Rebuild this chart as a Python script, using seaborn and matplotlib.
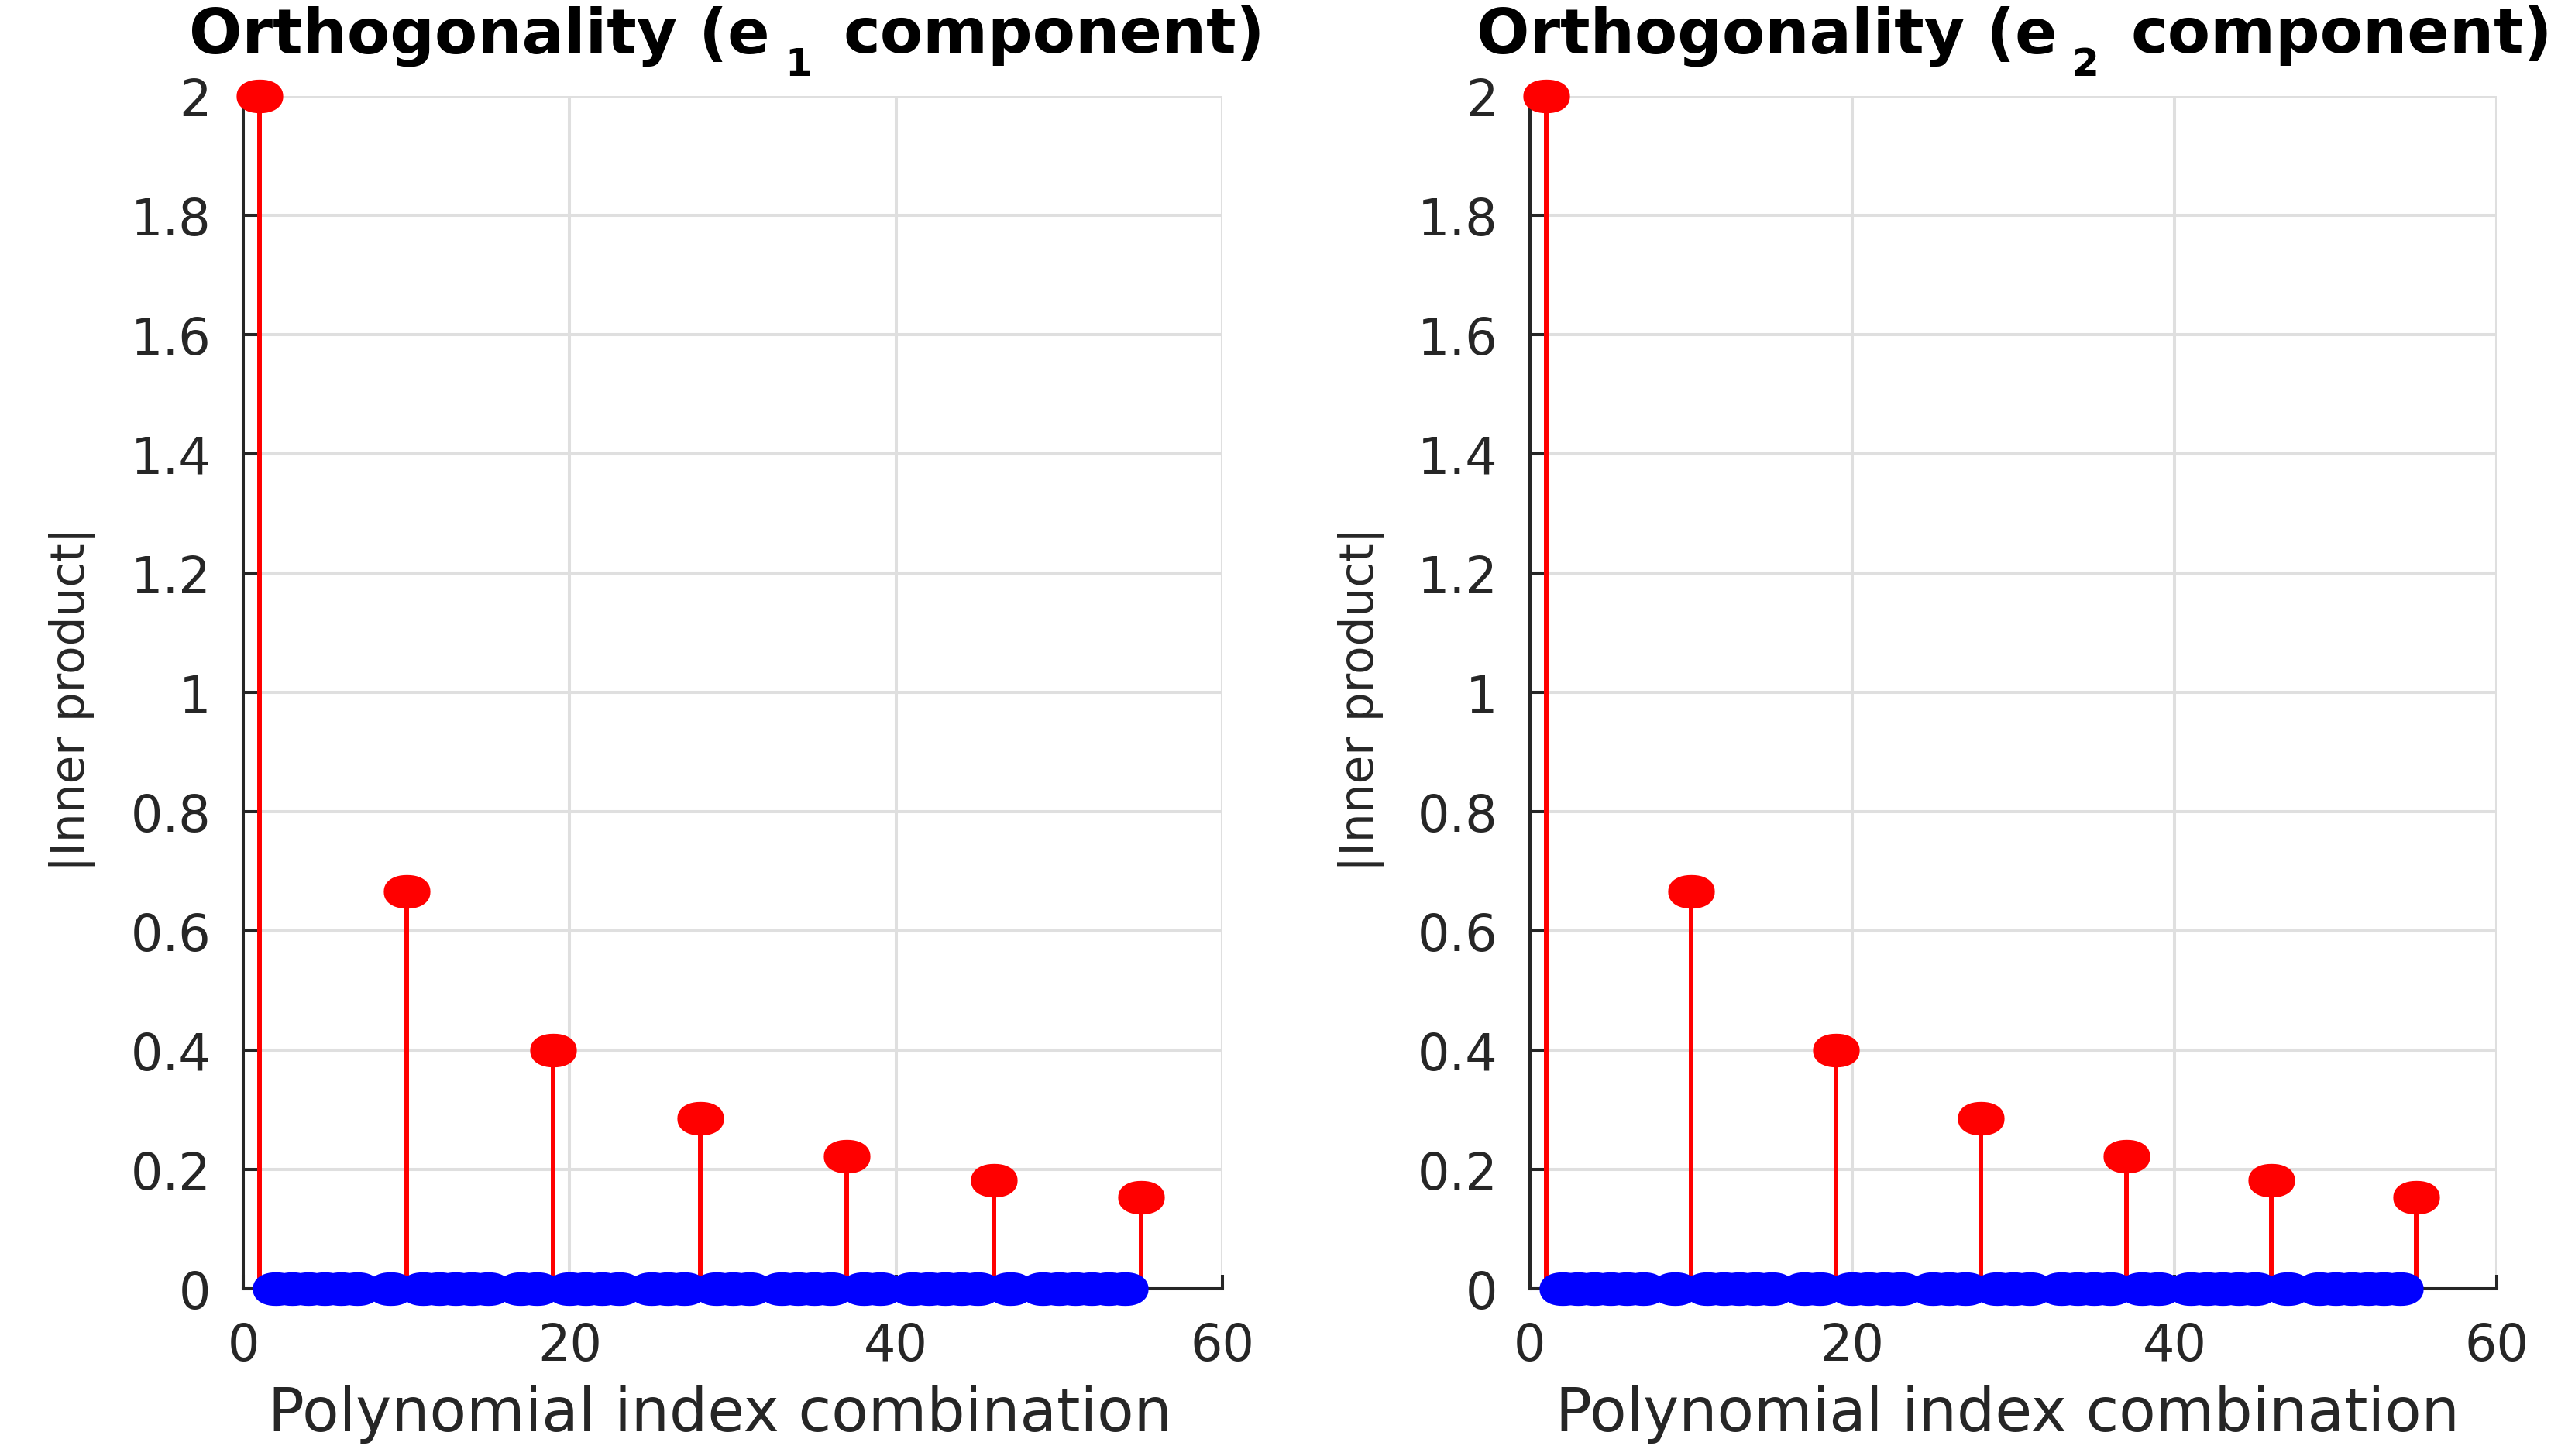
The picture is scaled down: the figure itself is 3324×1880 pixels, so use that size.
import numpy as np
import matplotlib
matplotlib.use("Agg")
import matplotlib.pyplot as plt
from matplotlib.markers import MarkerStyle
import seaborn as sns

# ---------------- data ----------------
red_idx = [1, 10, 19, 28, 37, 46, 55]
e1_red_vals = [2.0, 0.6667, 0.4, 0.2857, 0.2222, 0.1818, 0.1538]
e2_red_vals = [2.0, 0.6667, 0.4, 0.2857, 0.2222, 0.1818, 0.1538]

blue_idx = [2, 3, 4, 5, 6, 7, 9, 11, 12, 13, 14, 15, 17, 18, 20, 21, 22, 23,
            25, 26, 27, 29, 30, 31, 33, 34, 35, 36, 38, 39, 41, 42, 43, 44, 45,
            47, 49, 50, 51, 52, 53, 54]
e1_blue_vals = [0, 0, 0, 0, 0, 0, 0, 0, 0, 0, 0, 0, 0, 0, 0, 0, 0, 0, 0, 0, 0,
                0, 0, 0, 0, 0, 0, 0, 0, 0, 0, 0, 0, 0, 0, 0, 0, 0, 0, 0, 0, 0]
e2_blue_vals = [0, 0, 0, 0, 0, 0, 0, 0, 0, 0, 0, 0, 0, 0, 0, 0, 0, 0, 0, 0, 0,
                0, 0, 0, 0, 0, 0, 0, 0, 0, 0, 0, 0, 0, 0, 0, 0, 0, 0, 0, 0, 0]

x_ticks = [0, 20, 40, 60]
x_tick_labels = ["0", "20", "40", "60"]
y_ticks = [0, 0.2, 0.4, 0.6, 0.8, 1.0, 1.2, 1.4, 1.6, 1.8, 2.0]
y_tick_labels = ["0", "0.2", "0.4", "0.6", "0.8", "1", "1.2", "1.4", "1.6", "1.8", "2"]

title_head = "Orthogonality (e"
title_subs = ["1", "2"]
title_tail = "component)"
x_label = "Polynomial index combination"
y_label = "|Inner product|"

# ---------------- style ----------------
sns.set_theme(style="whitegrid")
plt.rcParams['font.family'] = ['DejaVu Sans']

W, H = 3324, 1881
fig = plt.figure(figsize=(W / 100, H / 100), dpi=100)
fig.patch.set_facecolor("white")

top_px, bot_px = 125, 1665
axes_px = [(314, 1264), (1975, 1248)]
title_center_px = [938, 2600]
xlabel_x = [0.487, 0.494]

dark = "#262626"
# wide, slightly flat-topped ellipse marker (stretched low-res circle look)
_th = np.linspace(0, 2 * np.pi, 49)
_n = 2.2
_mx = 0.75 * np.sign(np.cos(_th)) * np.abs(np.cos(_th)) ** (2 / _n)
_my = 0.54 * np.sign(np.sin(_th)) * np.abs(np.sin(_th)) ** (2 / _n)
mk = MarkerStyle(list(zip(_mx, _my)))
msize = 1880

panels = [(e1_red_vals, e1_blue_vals), (e2_red_vals, e2_blue_vals)]

for k, ((x0, w), (rv, bv)) in enumerate(zip(axes_px, panels)):
    ax = fig.add_axes([x0 / W, 1 - bot_px / H, w / W, (bot_px - top_px) / H])
    ax.set_facecolor("white")

    # stems
    ax.vlines(red_idx, 0, rv, color="red", lw=4.3, zorder=2)
    # zero-valued points
    sns.scatterplot(x=blue_idx, y=bv, ax=ax, marker=mk, s=msize, color="blue",
                    edgecolor="blue", linewidth=0, zorder=3, clip_on=False,
                    legend=False)
    # non-zero heads
    sns.scatterplot(x=red_idx, y=rv, ax=ax, marker=mk, s=msize, color="red",
                    edgecolor="red", linewidth=0, zorder=4, clip_on=False,
                    legend=False)

    ax.set_xlim(0, 60)
    ax.set_ylim(0, 2)
    ax.set_xticks(x_ticks)
    ax.set_xticklabels(x_tick_labels)
    ax.set_yticks(y_ticks)
    ax.set_yticklabels(y_tick_labels)

    ax.set_axisbelow(True)
    ax.grid(True, color="#dfdfdf", lw=2.9)
    for s in ["top", "right"]:
        ax.spines[s].set_visible(False)
    for s in ["left", "bottom"]:
        ax.spines[s].set_visible(True)
        ax.spines[s].set_color(dark)
        ax.spines[s].set_linewidth(2.9)

    ax.tick_params(axis="both", direction="in", length=13, width=2.9,
                   color=dark, labelcolor=dark, labelsize=47)
    ax.tick_params(axis="x", pad=30, bottom=True)
    ax.tick_params(axis="y", pad=30, left=True)

    ax.set_xlabel(x_label, fontsize=56, color=dark)
    ax.xaxis.set_label_coords(xlabel_x[k], -0.080)
    ax.set_ylabel(y_label, fontsize=43, color=dark)
    ax.yaxis.set_label_coords(-0.151, 0.495)

# ---------------- titles with lowered subscript ----------------
fig.canvas.draw()
renderer = fig.canvas.get_renderer()
base_y = 1 - 68 / H
gap1, gap2, drop = 20, 40, 30
for k in range(2):
    t1 = fig.text(0, base_y, title_head, fontsize=58, fontweight="bold",
                  color="black", ha="left", va="baseline")
    t2 = fig.text(0, base_y - drop / H, title_subs[k], fontsize=36,
                  fontweight="bold", color="black", ha="left", va="baseline")
    t3 = fig.text(0, base_y, title_tail, fontsize=58, fontweight="bold",
                  color="black", ha="left", va="baseline")
    w1 = t1.get_window_extent(renderer).width
    w2 = t2.get_window_extent(renderer).width
    w3 = t3.get_window_extent(renderer).width
    total = w1 + gap1 + w2 + gap2 + w3
    start = title_center_px[k] - total / 2
    t1.set_x(start / W)
    t2.set_x((start + w1 + gap1) / W)
    t3.set_x((start + w1 + gap1 + w2 + gap2) / W)

fig.savefig("out.png", dpi=100, facecolor="white")
